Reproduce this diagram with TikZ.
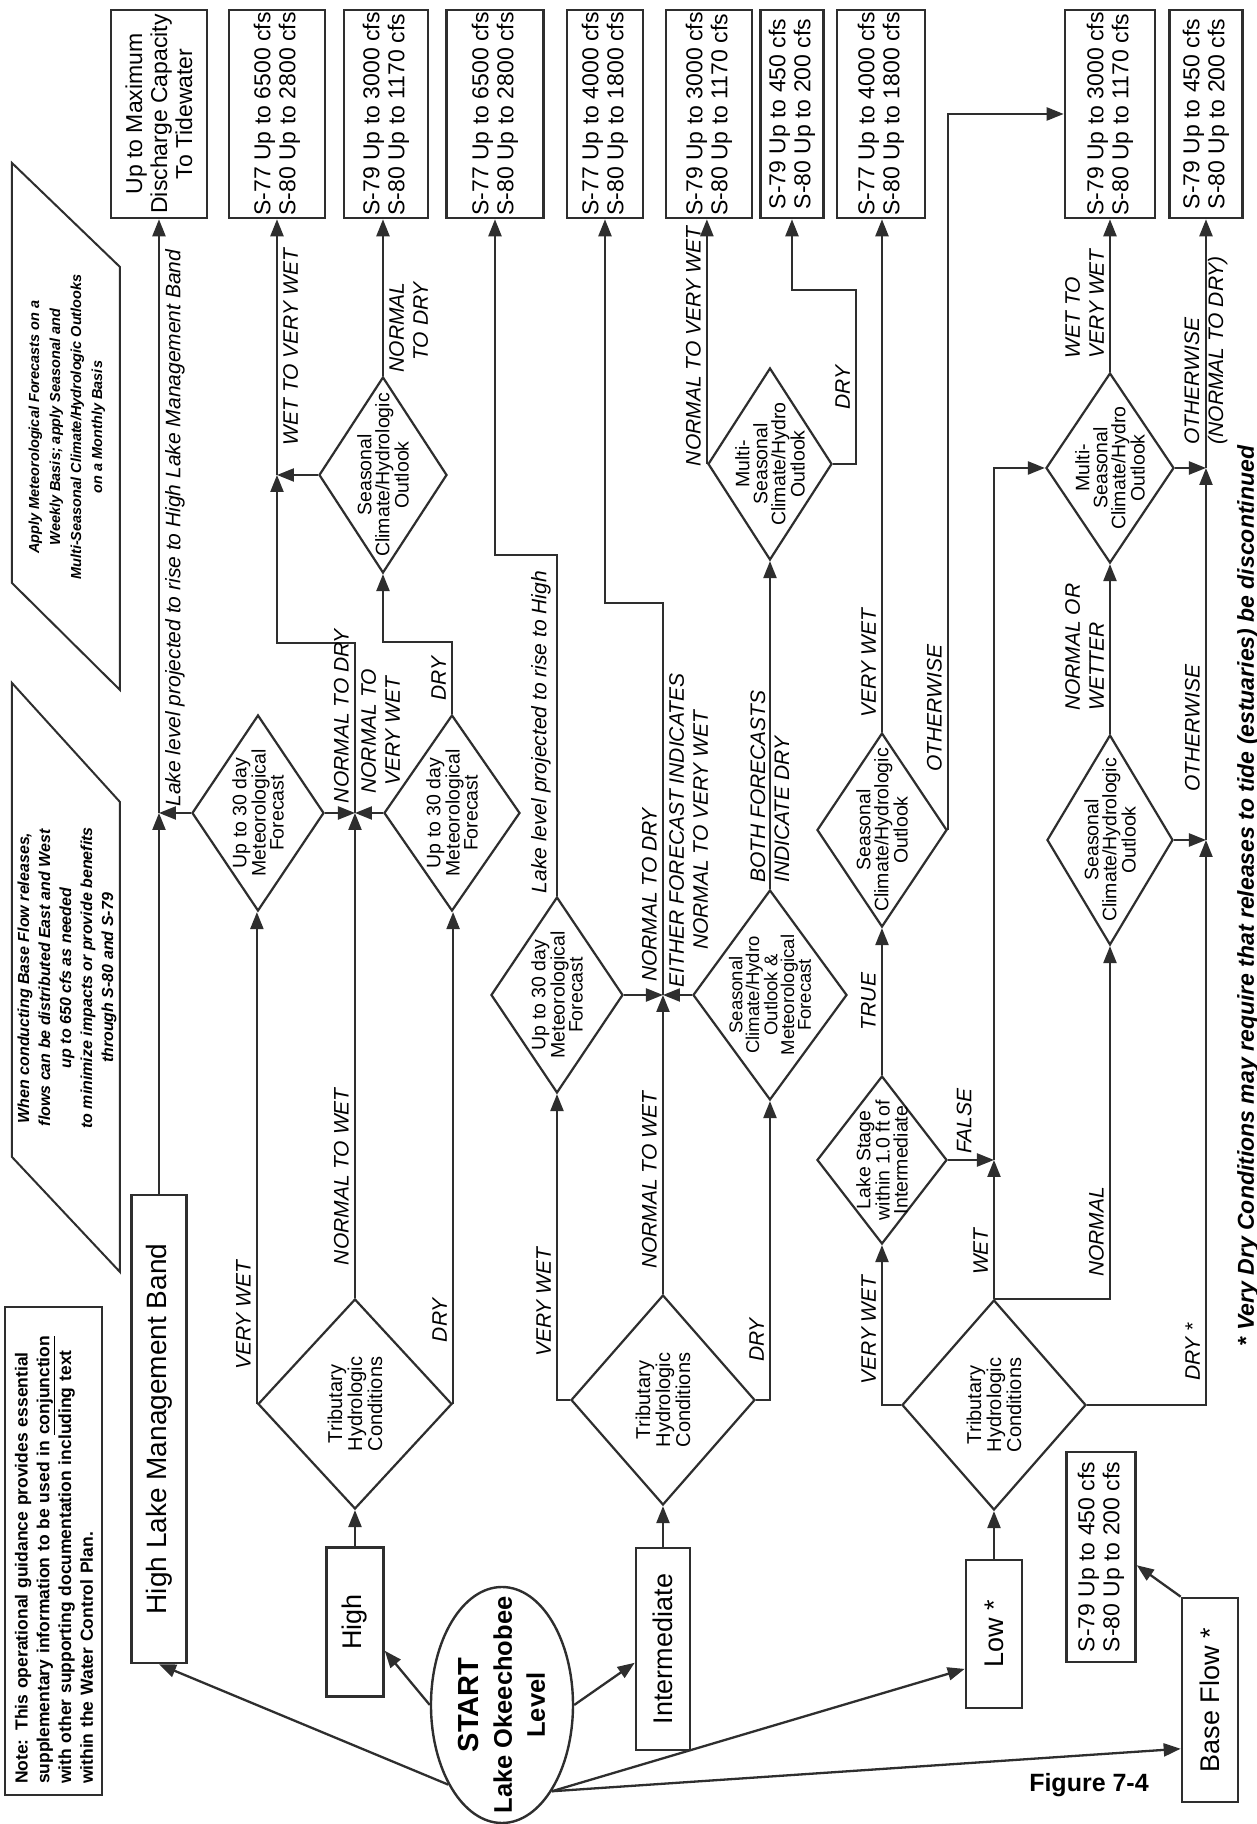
\documentclass[tikz,border=0pt]{standalone}
\usepackage{fontspec}
\setmainfont{Liberation Sans}
\usetikzlibrary{shapes.geometric, arrows.meta, calc}

\colorlet{ink}{black!82}
\tikzset{
  line/.style={draw=ink, line width=2.3pt},
  arr/.style={line, -{Triangle[length=17pt, width=13pt]}},
  box/.style={draw=ink, line width=2.6pt, fill=white, inner sep=2pt, align=center,
    font=\fontsize{27}{30}\selectfont},
  flow/.style={box, inner sep=1pt, align=left, minimum width=208pt,
    font=\fontsize{23}{25}\selectfont},
  cond/.style={diamond, draw=ink, line width=2.2pt, fill=white, inner sep=0pt},
  condtxt/.style={align=center, inner sep=0pt, font=\fontsize{19.5}{18}\selectfont},
  txt/.style={label={[condtxt]center:{#1}}},
  trib/.style={cond, minimum width=210pt, minimum height=188pt,
    label={[condtxt, font=\fontsize{20}{20}\selectfont]center:{Tributary\\Hydrologic\\Conditions}}},
  met/.style={cond, minimum width=196pt, minimum height=132pt,
    txt={Up to 30 day\\Meteorological\\Forecast}},
  seas/.style={cond, minimum width=196pt, minimum height=128pt},
  lbl/.style={font=\fontsize{21}{24}\selectfont\itshape, inner sep=5pt},
  callout/.style={font=\fontsize{#1}{21}\selectfont\bfseries\itshape, align=center},
}

\begin{document}
\begin{tikzpicture}[rotate=90, transform shape, x=1pt, y=1pt]
\fill[white] (0,0) rectangle (1824,1257);
\useasboundingbox (0,0) rectangle (1824,1257);

% notes
\node[draw=ink, line width=2pt, minimum width=488pt, minimum height=97pt, text width=466pt,
  align=left, inner sep=0pt, font=\fontsize{17.5}{21.7}\selectfont\bfseries] (note) at (273,1203)
  {Note: This operational guidance provides essential\\
   supplementary information to be used in \underline{conjunction}\\
   with other supporting documentation including text\\
   within the Water Control Plan.};
\draw[line, line width=2pt] (552,1137) -- (1022,1137) -- (1141,1245) -- (667,1245) -- cycle;
\node[callout=16] (basenote) at (846,1190) {When conducting Base Flow releases,\\flows can be distributed East and West\\up to 650 cfs as needed\\to minimize impacts or provide benefits\\through S-80 and S-79};
\draw[line, line width=2pt] (1134,1137) -- (1557,1137) -- (1661,1245) -- (1241,1245) -- cycle;
\node[callout=14.5] (fcstnote) at (1397,1190) {Apply Meteorological Forecasts on a\\Weekly Basis; apply Seasonal and\\Multi-Seasonal Climate/Hydrologic Outlooks\\on a Monthly Basis};

% lake levels
\node[ellipse, draw=ink, line width=2.4pt, fill=white, minimum width=236pt, minimum height=142pt, inner sep=0pt,
  label={[align=center, font=\fontsize{25.5}{33}\selectfont\bfseries]center:{{\fontsize{29}{33}\selectfont START}\\Lake Okeechobee\\Level}}] (start) at (119,755) {};
\node[box, minimum width=468pt, minimum height=55pt, font=\fontsize{28}{30}\selectfont] (hlmb) at (395,1098) {High Lake Management Band};
\node[box, minimum width=149pt, minimum height=57pt] (high) at (202,902) {High};
\node[box, minimum width=202pt, minimum height=54pt] (inter) at (175,594) {Intermediate};
\node[box, minimum width=148pt, minimum height=56pt] (low) at (190,263) {Low *};
\node[box, minimum width=204pt, minimum height=56pt] (base) at (124,47) {Base Flow *};
\node[flow, minimum width=210pt, minimum height=69pt] (bfrel) at (267,156) {S-79 Up to 450 cfs\\S-80 Up to 200 cfs};

% decisions
\node[trib, minimum height=194pt] (trib1) at (420,902) {};
\node[met] (met1) at (1011,999) {};
\node[met, minimum height=136pt] (met2) at (1011,805) {};
\node[seas, txt={Seasonal\\Climate/Hydrologic\\Outlook}] (seas1) at (1349,874) {};
\node[trib, minimum height=184pt] (trib2) at (424,594) {};
\node[met] (met3) at (829,700) {};
\node[cond, minimum width=210pt, minimum height=154pt,
  label={[condtxt, font=\fontsize{18.5}{16.7}\selectfont]center:{Seasonal\\Climate/Hydro\\Outlook \&\\Meteorological\\Forecast}}] (both) at (829,487) {};
\node[seas, minimum width=192pt, minimum height=124pt, txt={Multi-\\Seasonal\\Climate/Hydro\\Outlook}] (multi1) at (1360,487) {};
\node[trib, minimum height=184pt] (trib3) at (419,263) {};
\node[cond, minimum width=168pt, minimum height=130pt, txt={Lake Stage\\within 1.0 ft of\\Intermediate}] (stage) at (664,375) {};
\node[seas, minimum width=194pt, minimum height=130pt, txt={Seasonal\\Climate/Hydrologic\\Outlook}] (seas2) at (994,375) {};
\node[seas, minimum width=210pt, minimum height=126pt, txt={Seasonal\\Climate/Hydrologic\\Outlook}] (seas3) at (984,147) {};
\node[seas, minimum width=190pt, minimum height=128pt, txt={Multi-\\Seasonal\\Climate/Hydro\\Outlook}] (multi2) at (1356,147) {};

% releases
\node[flow, align=center, minimum height=96pt] (out1) at (1710,1098) {Up to Maximum\\Discharge Capacity\\To Tidewater};
\node[flow, minimum height=96pt] (out2) at (1710,980) {S-77 Up to 6500 cfs\\S-80 Up to 2800 cfs};
\node[flow, minimum height=84pt] (out3) at (1710,871) {S-79 Up to 3000 cfs\\S-80 Up to 1170 cfs};
\node[flow, minimum height=97pt] (out4) at (1710,762) {S-77 Up to 6500 cfs\\S-80 Up to 2800 cfs};
\node[flow, minimum height=76pt] (out5) at (1710,652) {S-77 Up to 4000 cfs\\S-80 Up to 1800 cfs};
\node[flow, minimum height=86pt] (out6) at (1710,548) {S-79 Up to 3000 cfs\\S-80 Up to 1170 cfs};
\node[flow, minimum height=63pt] (out7) at (1710,465) {S-79 Up to 450 cfs\\S-80 Up to 200 cfs};
\node[flow, minimum height=88pt] (out8) at (1710,376) {S-77 Up to 4000 cfs\\S-80 Up to 1800 cfs};
\node[flow, minimum height=90pt] (out9) at (1710,147) {S-79 Up to 3000 cfs\\S-80 Up to 1170 cfs};
\node[flow, minimum height=73pt] (out10) at (1710,51) {S-79 Up to 450 cfs\\S-80 Up to 200 cfs};

\node[rotate=-90, font=\fontsize{25}{28}\selectfont\bfseries] (fig) at (39,168) {Figure 7-4};
\node[anchor=base, font=\fontsize{23}{26}\selectfont\bfseries\itshape] (foot) at (928,3) {* Very Dry Conditions may require that releases to tide (estuaries) be discontinued};

% from start
\draw[arr] (start.146) -- (hlmb.west);
\draw[arr] (start.north) -- (high.226);
\draw[arr] (start.south) -- (inter.116);
\draw[arr] (start.210) -- (low.140);
\draw[arr] (start.210) -- (base.149);
\draw[arr] (base.north east) -- (bfrel.257);
\draw[arr] (high) -- (trib1);
\draw[arr] (inter) -- (trib2);
\draw[arr] (low) -- (trib3);

% high
\coordinate (jh) at (met1.north |- hlmb.east);
\draw[arr] (hlmb.east) -- (jh);
\draw[arr] (met1.north) -- (jh);
\draw[arr] (jh) -- (jh -| out1.west) node[lbl, below, pos=.48] (lrise1) {Lake level projected to rise to High Lake Management Band};
\draw[arr] (trib1.north) -- (trib1.north -| met1.west) node[lbl, above, pos=.18] (lvw1) {VERY WET};
\coordinate (j1) at (met1.south |- trib1.east);
\draw[arr] (trib1.east) -- (j1) node[lbl, above, pos=.25] (lnw1) {NORMAL TO WET};
\draw[arr] (trib1.south) -- (trib1.south -| met2.west) node[lbl, above, pos=.17] (ldry1) {DRY};
\draw[arr] (met1.south) -- (j1);
\draw[arr] (met2.north) -- (j1);
\coordinate (j0) at (seas1.north |- out2.west);
\draw[arr] (j1) -- ++(170,0) node[lbl, above, pos=.57] (lnd1) {NORMAL TO DRY}
  node[lbl, below, pos=.48, align=center] (lnvw1) {NORMAL TO\\VERY WET} |- (j0);
\draw[arr] (seas1.north) -- (j0);
\draw[arr] (j0) -- (out2.west) node[lbl, below, pos=.5] (lwvw1) {WET TO VERY WET};
\draw[arr] (seas1.east) -- (seas1.east -| out3.west) node[lbl, below, pos=.31, align=right] (lntd1) {NORMAL\\TO DRY};
\draw[arr] (met2.east) -- ++(72,0) node[lbl, above, pos=.49] (ldry2) {DRY} |- (seas1.west);

% intermediate
\draw[arr] (trib2.north) |- (met3.west) node[lbl, above, pos=.66] (lvw2) {VERY WET};
\coordinate (j2) at (met3.south |- trib2.east);
\draw[arr] (trib2.east) -- (j2) node[lbl, above, pos=.38] (lnw2) {NORMAL TO WET};
\draw[arr] (trib2.south) |- (both.west) node[lbl, above, pos=.6] (ldry3) {DRY};
\draw[arr] (met3.south) -- (j2);
\draw[arr] (both.north) -- (j2);
\draw[arr] (j2) -- ++(392,0) node[lbl, above, pos=.255] (lnd2) {NORMAL TO DRY}
  node[lbl, below, pos=.42, align=center] (leither) {EITHER FORECAST INDICATES\\NORMAL TO VERY WET} |- (out5.west);
\draw[arr] (met3.east) -- ++(341,0) node[lbl, above, pos=.48] (lrise2) {Lake level projected to rise to High} |- (out4.west);
\draw[arr] (both.east) -- (multi1.west) node[lbl, pos=0, anchor=west, align=left] (lboth) {BOTH FORECASTS\\INDICATE DRY};
\draw[arr] (multi1.north) -- (multi1.north -| out6.west) node[lbl, above, pos=.48] (lnvw2) {NORMAL TO VERY WET};
\draw[arr] (multi1.south) -- ++(0,-23) -- ++(174,0) node[lbl, above, pos=.44] (ldry4) {DRY} |- (out7.west);

% low
\draw[arr] (trib3.north) |- (stage.west) node[lbl, above, pos=.735] (lvw3) {VERY WET};
\draw[arr] (stage.east) -- (seas2.west) node[lbl, above, pos=.5] (ltrue) {TRUE};
\coordinate (j3) at (stage.south |- trib3.east);
\draw[arr] (stage.south) -- (j3) node[lbl, right, pos=.35] (lfalse) {FALSE};
\draw[arr] (trib3.east) -- (j3) node[lbl, above, pos=.34] (lwet) {WET};
\draw[arr] (j3) -| (multi2.north);
\draw[arr] (trib3.east) |- (seas3.west) node[lbl, above, pos=.595] (lnormal) {NORMAL};
\draw[arr] (seas2.east) -- (seas2.east -| out8.west) node[lbl, above, pos=.134] (lvw4) {VERY WET};
\draw[arr] (seas2.south) -| (out9.north) node[lbl, above, pos=.085] (loth1) {OTHERWISE};
\coordinate (j5) at (seas3.south |- out10.west);
\coordinate (j4) at (multi2.south |- out10.west);
\draw[arr] (trib3.south) |- (j5) node[lbl, above, pos=.547] (ldry5) {DRY *};
\draw[arr] (seas3.south) -- (j5);
\draw[arr] (j5) -- (j4) node[lbl, above, pos=.3] (loth2) {OTHERWISE};
\draw[arr] (multi2.south) -- (j4);
\draw[arr] (j4) -- (out10.west) node[lbl, pos=.07, anchor=west, align=left] (loth3) {OTHERWISE\\(NORMAL TO DRY)};
\draw[arr] (seas3.east) -- (multi2.west) node[lbl, above right, pos=.1, align=left] (lnow) {NORMAL OR\\WETTER};
\draw[arr] (multi2.east) -- (multi2.east -| out9.west) node[lbl, above right, pos=.05, align=left] (lwvw2) {WET TO\\VERY WET};
\end{tikzpicture}
\end{document}
